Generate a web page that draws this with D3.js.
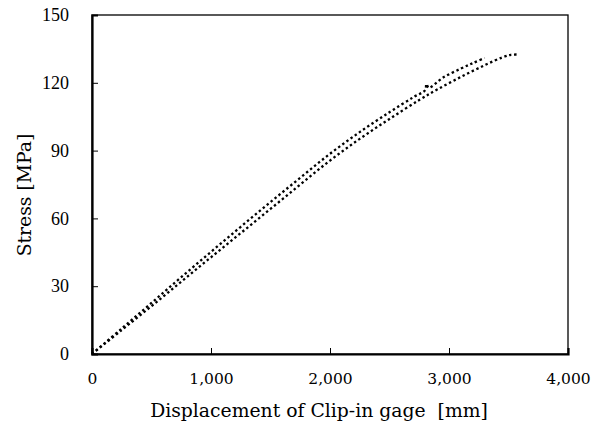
<!DOCTYPE html>
<html>
<head>
<meta charset="utf-8">
<script src="https://cdn.jsdelivr.net/npm/d3@7"></script>
<style>
  body { margin: 0; background: #fff; }
  svg { display: block; }
</style>
</head>
<body>
<svg id="chart"></svg>
<script>
    // specimen A (upper, shorter curve)
    var dispA   = [0, 250, 500, 750, 1000, 1250, 1500, 1750, 2000, 2250, 2500, 2700, 2800, 2810, 2830, 2950, 3100, 3200, 3300];
    var stressA = [0, 11.3, 22.6, 34, 45.2, 56.3, 67.2, 78, 88.6, 98.2, 107, 113.6, 116.8, 119.5, 117.8, 122.3, 126.3, 128.7, 131];
    // specimen B (lower, longer curve)
    var dispB   = [0, 250, 500, 750, 1000, 1250, 1500, 1750, 2000, 2250, 2500, 2750, 2900, 3100, 3300, 3450, 3520, 3590];
    var stressB = [0, 10.6, 21.2, 32, 42.8, 53.5, 64.2, 75, 85.6, 95.2, 104, 112.4, 117, 122.6, 127.8, 131.3, 132.4, 132.5];

    var xTicks = [0, 1000, 2000, 3000, 4000];
    var yTicks = [0, 30, 60, 90, 120, 150];

    var margin = {left: 92, top: 15};
    var width = 476;
    var height = 339;

    var chart = d3.select('#chart')
        .attr('width', 592)
        .attr('height', 427);

    var g = chart.append('g')
        .attr('transform', 'translate(' + margin.left + ',' + margin.top + ')');

    var x = d3.scaleLinear().domain([0, 4000]).range([0, width]);
    var y = d3.scaleLinear().domain([0, 150]).range([height, 0]);

    // frame
    g.append('rect')
        .attr('width', width)
        .attr('height', height)
        .attr('fill', 'none')
        .attr('stroke', '#000')
        .attr('stroke-width', 1.3);

    var fmt = d3.format(',');

    var xAxis = d3.axisBottom(x).tickValues(xTicks).tickSize(-6).tickPadding(19).tickFormat(fmt);
    var yAxis = d3.axisLeft(y).tickValues(yTicks).tickSize(-6).tickPadding(23);

    var axisX = g.append('g')
        .attr('transform', 'translate(0,' + height + ')')
        .call(xAxis);
    var axisY = g.append('g').call(yAxis);

    [axisX, axisY].forEach(function(a) {
        a.select('.domain').attr('stroke-width', 2.2);
        a.selectAll('.tick line').attr('stroke-width', 1);
        a.selectAll('text').attr('fill', '#000');
    });
    axisX.selectAll('text')
        .style('font-family', 'DejaVu Serif')
        .style('font-size', '15.5px');
    axisY.selectAll('text')
        .style('font-family', 'Liberation Serif')
        .style('font-size', '18px');

    // the curves
    var line = d3.line()
        .x(function(d){ return x(d.x); })
        .y(function(d){ return y(d.y); })
        .curve(d3.curveCatmullRom);

    function pairs(xs, ys) {
        return xs.map(function(v, i){ return {x: v, y: ys[i]}; });
    }

    [pairs(dispA, stressA), pairs(dispB, stressB)].forEach(function(data) {
        g.append('path')
            .datum(data)
            .attr('fill', 'none')
            .attr('stroke', '#000')
            .attr('stroke-width', 2.3)
            .attr('stroke-dasharray', '2.4,2.7')
            .attr('d', line);
    });

    // titles
    chart.append('text')
        .attr('x', 319)
        .attr('y', 417)
        .attr('text-anchor', 'middle')
        .style('font-family', 'DejaVu Serif')
        .style('font-size', '18.8px')
        .style('white-space', 'pre')
        .text('Displacement of Clip-in gage  [mm]');

    chart.append('text')
        .attr('transform', 'translate(31,195) rotate(-90)')
        .attr('text-anchor', 'middle')
        .style('font-family', 'DejaVu Serif')
        .style('font-size', '18.8px')
        .text('Stress [MPa]');
</script>
</body>
</html>
